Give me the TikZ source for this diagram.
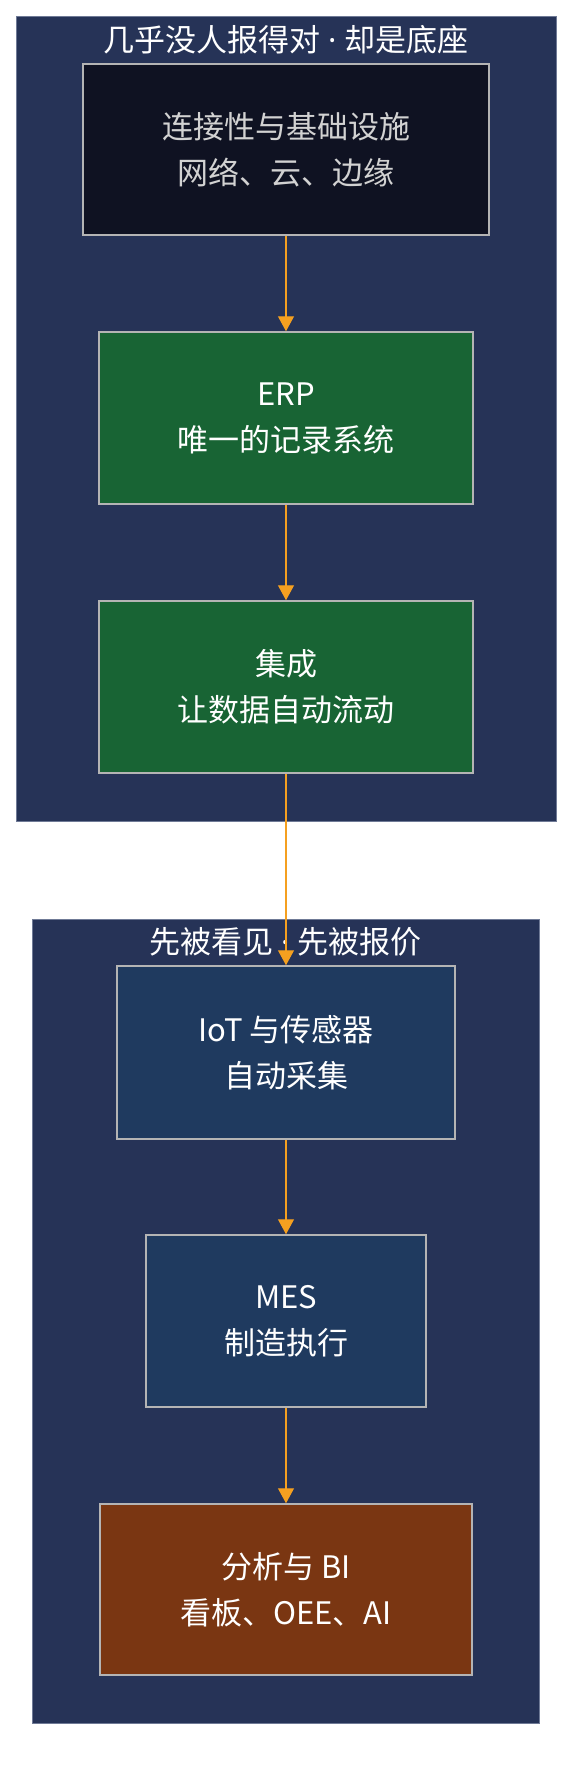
\documentclass[tikz,border=0pt]{standalone}
\usepackage{fontspec}
\setmainfont{Noto Sans CJK SC}
\newfontfamily\dotfont{Noto Sans}
\usetikzlibrary{arrows.meta}
\definecolor{panel}{HTML}{263357}
\definecolor{panelline}{HTML}{6F7A96}
\definecolor{infrafill}{HTML}{0F1222}
\definecolor{erpfill}{HTML}{186434}
\definecolor{shopfill}{HTML}{1F3A5F}
\definecolor{bifill}{HTML}{7A3612}
\definecolor{boxline}{HTML}{B4B4B4}
\definecolor{flow}{HTML}{F5A020}
\definecolor{dimtext}{HTML}{D2D2D2}

\begin{document}
\begin{tikzpicture}[x = 1pt, y = -1pt,
                    > = {Triangle[length = 15pt, width = 16pt]},
                    panel/.style = {rectangle, draw = panelline, line width = 1pt, fill = panel, inner sep = 0pt},
                    paneltitle/.style = {text = white, font = \fontsize{31}{36}\selectfont, inner sep = 0pt},
                    block/.style = {rectangle, draw = boxline, line width = 1.5pt, align = center, text = white,
                                    font = \fontsize{31}{46}\selectfont, inner sep = 0pt}]
    \useasboundingbox (0, 0) rectangle (588, 1788);
    % upper group
    \node [panel, minimum width = 540pt, minimum height = 805pt] (top) at (286, 418.5) {};
    \node [paneltitle] (toptitle) at (286, 40) {几乎没人报得对{\dotfont\ ·\ }却是底座};
    \node [block, fill = infrafill, text = dimtext, minimum width = 406pt, minimum height = 171pt] (infra) at (286, 149.5) {连接性与基础设施\\网络、云、边缘};
    \node [block, fill = erpfill, minimum width = 374pt, minimum height = 172pt] (erp) at (286, 418) {ERP\\唯一的记录系统};
    \node [block, fill = erpfill, minimum width = 374pt, minimum height = 172pt] (integ) at (286, 687) {集成\\让数据自动流动};
    % lower group
    \node [panel, minimum width = 507pt, minimum height = 804pt] (bottom) at (285.5, 1321) {};
    \node [paneltitle] (bottomtitle) at (285.5, 942) {先被看见{\dotfont\ ·\ }先被报价};
    \node [block, fill = shopfill, minimum width = 338pt, minimum height = 173pt] (iot) at (286, 1052.5) {IoT 与传感器\\自动采集};
    \node [block, fill = shopfill, minimum width = 280pt, minimum height = 172pt] (mes) at (286, 1321) {MES\\制造执行};
    \node [block, fill = bifill, minimum width = 372pt, minimum height = 171pt] (bi) at (286, 1589.5) {分析与 BI\\看板、OEE、AI};
    \draw [flow, line width = 1.3pt, ->] (infra)--(erp);
    \draw [flow, line width = 1.3pt, ->] (erp)--(integ);
    \draw [flow, line width = 1.3pt, ->] (integ)--(iot);
    \draw [flow, line width = 1.3pt, ->] (iot)--(mes);
    \draw [flow, line width = 1.3pt, ->] (mes)--(bi);
\end{tikzpicture}
\end{document}
